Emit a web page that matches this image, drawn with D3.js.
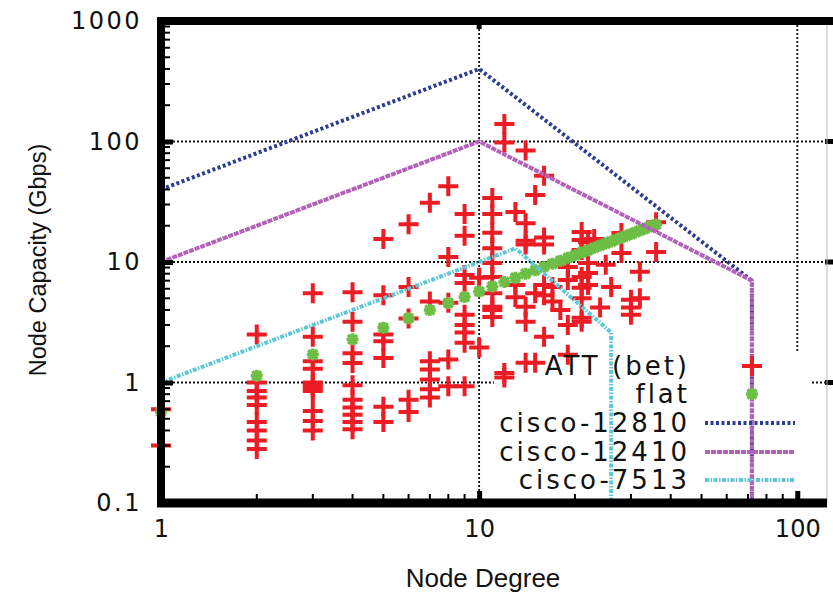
<!DOCTYPE html>
<html>

<head>
    <meta charset="UTF-8">
    <style>
        body { margin: 0; background: #fff; }
        text { fill: #111; }
    </style>
</head>

<body>
    <script src="https://d3js.org/d3.v7.min.js"></script>
    <div id="chart"></div>
    <script>
        // ATT (bet) measurements: node degree and node capacity (Gbps)
        const attDegree = [1, 1,
            2, 2, 2, 2, 2, 2, 2, 2, 2,
            3, 3, 3, 3, 3, 3, 3, 3, 3, 3, 3,
            4, 4, 4, 4, 4, 4, 4, 4, 4, 4,
            5, 5, 5, 5, 5, 5, 5,
            6, 6, 6, 6, 6,
            7, 7, 7, 7, 7, 7, 7,
            8, 8, 8, 8, 8,
            9, 9, 9, 9, 9, 9, 9, 9, 9,
            10, 10,
            11, 11, 11, 11, 11, 11, 11, 11, 11, 11,
            12, 12, 12, 12,
            13, 13, 13,
            14, 14, 14, 14, 14, 14, 14,
            15, 15, 15,
            16, 16, 16, 16, 16, 16,
            17, 17, 18,
            19, 19, 19, 19,
            21, 21, 21, 21, 21, 21, 21, 21,
            22, 22, 22, 22,
            23, 24, 25, 26, 28, 28,
            30, 30, 30, 32, 32, 36, 36];
        const attCapacity = [0.6, 0.3,
            2.5, 1.0, 0.85, 0.75, 0.65, 0.47, 0.4, 0.33, 0.28,
            5.5, 2.4, 1.5, 1.3, 1.0, 0.95, 0.9, 0.85, 0.58, 0.48, 0.4,
            5.6, 3.2, 1.75, 1.45, 0.95, 0.72, 0.62, 0.54, 0.47, 0.41,
            15.5, 5.3, 2.5, 2.2, 1.6, 0.63, 0.47,
            20.6, 6.2, 3.4, 0.72, 0.57,
            31, 4.7, 1.5, 1.28, 1.06, 0.88, 0.75,
            42.5, 11, 4.6, 1.55, 0.93,
            25, 16.5, 7.8, 6.7, 3.65, 3.0, 2.6, 2.14, 0.93,
            7.4, 1.95,
            34, 25, 17.5, 13, 9.8, 7.5, 5.5, 4.25, 3.5, 4.0,
            140, 98, 1.1, 1.2,
            26, 6.45, 5.1,
            84, 21, 15, 14, 4.25, 3.2, 1.46,
            36, 5.5, 1.46,
            52, 16, 14, 6.45, 5.3, 2.4,
            6.2, 4.7, 4.0,
            9.1, 7.1, 3.0, 1.7,
            17.7, 15.2, 12.6, 7.5, 6.1, 5.0, 3.45, 3.2,
            14.6, 9.8, 8.1, 6.45,
            15.5, 4.2, 9.5, 6.2, 17.4, 11.9,
            4.85, 4.2, 3.65, 8.3, 5.0, 21.4, 12.1];

        // flat model
        const flatDegree = [1, 2, 3, 4, 5, 6, 7, 8, 9, 10, 11, 12, 13, 14, 15, 16, 17, 18,
            19, 20, 21, 22, 23, 24, 25, 26, 27, 28, 29, 30, 31, 32, 33, 34, 35, 36];
        const flatCapacity = [0.57, 1.14, 1.71, 2.28, 2.85, 3.42, 3.99, 4.56, 5.13, 5.7, 6.27,
            6.84, 7.41, 7.98, 8.55, 9.12, 9.69, 10.26, 10.83, 11.4, 11.97, 12.54, 13.11,
            13.68, 14.25, 14.82, 15.39, 15.96, 16.53, 17.1, 17.67, 18.24, 18.81, 19.38,
            19.95, 20.5];

        // router technology envelopes
        const c12810Degree = [1, 10, 72, 72];
        const c12810Capacity = [40, 400, 7, 0.1];
        const c12410Degree = [1, 10, 72, 72];
        const c12410Capacity = [10, 100, 7, 0.1];
        const c7513Degree = [1, 13, 26, 26];
        const c7513Capacity = [1, 13, 2.6, 0.1];

        const xTicks = [1, 10, 100];
        const yTicks = [0.1, 1, 10, 100, 1000];

        const width = 833, height = 599;
        const pLeft = 161, pRight = 827, pTop = 21, pBottom = 503;

        const svg = d3.select("#chart")
            .append("svg")
            .attr("width", width)
            .attr("height", height);

        const x = d3.scaleLog().domain([1, 124]).range([pLeft, pRight]);
        const y = d3.scaleLog().domain([0.1, 1000]).range([pBottom, pTop]);

        const red = "#ec1c24", green = "#6cbe45";

        // grid (dotted), with gaps where the key sits
        const grid = svg.append("g")
            .attr("stroke", "#111")
            .attr("stroke-width", 1.8)
            .attr("stroke-dasharray", "2,2");
        grid.append("line").attr("x1", x(10)).attr("x2", x(10)).attr("y1", pTop).attr("y2", pBottom);
        grid.append("line").attr("x1", x(100)).attr("x2", x(100)).attr("y1", pTop).attr("y2", 352);
        [10, 100].forEach(v => {
            grid.append("line").attr("x1", pLeft).attr("x2", pRight).attr("y1", y(v)).attr("y2", y(v));
        });
        grid.append("line").attr("x1", pLeft).attr("x2", 494).attr("y1", y(1)).attr("y2", y(1));
        grid.append("line").attr("x1", 812).attr("x2", pRight).attr("y1", y(1)).attr("y2", y(1));

        // ATT points
        const plus = "M-10,0H10M0,-10V10";
        svg.append("g").selectAll("path")
            .data(attDegree.map((d, i) => [d, attCapacity[i]]))
            .enter()
            .append("path")
            .attr("d", plus)
            .attr("transform", d => `translate(${x(d[0])},${y(d[1])})`)
            .attr("stroke", red)
            .attr("stroke-width", 4)
            .attr("fill", "none");

        // flat points
        const star = "M-4.5,-4.5L4.5,4.5M-4.5,4.5L4.5,-4.5M-6,0H6M0,-6V6";
        svg.append("g").selectAll("path")
            .data(flatDegree.map((d, i) => [d, flatCapacity[i]]))
            .enter()
            .append("path")
            .attr("d", star)
            .attr("transform", d => `translate(${x(d[0])},${y(d[1])})`)
            .attr("stroke", green)
            .attr("stroke-width", 3.5)
            .attr("fill", "none");

        // router lines
        const series = [
            { name: "cisco-12810", xs: c12810Degree, ys: c12810Capacity, color: "#2c3b93", dash: "3,2.5" },
            { name: "cisco-12410", xs: c12410Degree, ys: c12410Capacity, color: "#b262b8", dash: "5,1" },
            { name: "cisco-7513", xs: c7513Degree, ys: c7513Capacity, color: "#5fc8d8", dash: "4,1.5,1.5,1.5" }
        ];
        const line = d3.line().x(d => x(d[0])).y(d => y(d[1]));
        series.forEach(s => {
            svg.append("path")
                .datum(s.xs.map((d, i) => [d, s.ys[i]]))
                .attr("d", line)
                .attr("fill", "none")
                .attr("stroke", s.color)
                .attr("stroke-width", 4)
                .attr("stroke-dasharray", s.dash);
        });

        // key
        const key = svg.append("g")
            .style("font-family", "'DejaVu Sans'")
            .style("font-size", "26px")
            .style("letter-spacing", "3px");
        const keyRows = [366, 394, 423, 452, 480];
        const keyNames = ["ATT (bet)", "flat"].concat(series.map(s => s.name));
        keyNames.forEach((n, i) => {
            key.append("text")
                .attr("x", 690)
                .attr("y", keyRows[i])
                .attr("dy", "0.36em")
                .attr("text-anchor", "end")
                .text(n);
        });
        key.append("path").attr("d", plus).attr("transform", `translate(752,${keyRows[0]})`)
            .attr("stroke", red).attr("stroke-width", 4);
        key.append("path").attr("d", star).attr("transform", `translate(752,${keyRows[1]})`)
            .attr("stroke", green).attr("stroke-width", 3.5);
        series.forEach((s, i) => {
            key.append("line")
                .attr("x1", 705).attr("x2", 795)
                .attr("y1", keyRows[i + 2]).attr("y2", keyRows[i + 2])
                .attr("stroke", s.color)
                .attr("stroke-width", 4)
                .attr("stroke-dasharray", s.dash);
        });

        // minor ticks
        const minor = [];
        [0.1, 1, 10, 100].forEach(p => { for (let k = 2; k < 10; k++) minor.push(p * k); });
        const minorX = minor.filter(v => v > 1 && v < 124);
        const ticks = svg.append("g").attr("stroke", "#000").attr("stroke-width", 2);
        minor.forEach(v => {
            ticks.append("line").attr("x1", pLeft).attr("x2", pLeft + 9).attr("y1", y(v)).attr("y2", y(v));
        });
        minorX.forEach(v => {
            ticks.append("line").attr("y1", pBottom).attr("y2", pBottom - 9).attr("x1", x(v)).attr("x2", x(v));
        });
        // major ticks on right and top
        [1, 10, 100].forEach(v => {
            ticks.append("line").attr("x1", pRight - 2).attr("x2", width).attr("y1", y(v)).attr("y2", y(v))
                .attr("stroke-width", 5);
        });
        ticks.append("line").attr("x1", x(10)).attr("x2", x(10)).attr("y1", pTop).attr("y2", pTop + 8)
            .attr("stroke-width", 5);

        // axes
        const yAxis = svg.append("g")
            .attr("transform", `translate(${pLeft},0)`)
            .call(d3.axisLeft(y).tickValues(yTicks).tickFormat(d3.format("")).tickSizeInner(-12).tickSizeOuter(0).tickPadding(19));
        const xAxis = svg.append("g")
            .attr("transform", `translate(0,${pBottom})`)
            .call(d3.axisBottom(x).tickValues(xTicks).tickFormat(d3.format("")).tickSizeInner(-12).tickSizeOuter(0).tickPadding(17));
        [yAxis, xAxis].forEach(a => {
            a.select(".domain").remove();
            a.selectAll("line").attr("stroke", "#000").attr("stroke-width", 5);
            a.selectAll("text")
                .style("font-family", "'DejaVu Sans'")
                .style("font-size", "24px")
                .attr("fill", "#111");
        });
        yAxis.selectAll("text").style("letter-spacing", "2.5px");

        // frame
        svg.append("line").attr("x1", pRight).attr("x2", pRight).attr("y1", pTop).attr("y2", pBottom)
            .attr("stroke", "#bbb").attr("stroke-width", 1);
        svg.append("line").attr("x1", pLeft).attr("x2", pLeft).attr("y1", pTop - 4).attr("y2", pBottom + 4)
            .attr("stroke", "#000").attr("stroke-width", 8);
        svg.append("line").attr("x1", pLeft - 4).attr("x2", width).attr("y1", pTop).attr("y2", pTop)
            .attr("stroke", "#000").attr("stroke-width", 8);
        svg.append("line").attr("x1", pLeft - 4).attr("x2", pRight).attr("y1", pBottom).attr("y2", pBottom)
            .attr("stroke", "#000").attr("stroke-width", 9);

        // axis titles
        svg.append("text")
            .attr("x", 483)
            .attr("y", 587)
            .attr("text-anchor", "middle")
            .style("font-family", "'Liberation Sans'")
            .style("font-size", "26px")
            .text("Node Degree");
        svg.append("text")
            .attr("transform", "translate(46,260) rotate(-90)")
            .attr("text-anchor", "middle")
            .style("font-family", "'Liberation Sans'")
            .style("font-size", "23.5px")
            .text("Node Capacity (Gbps)");
    </script>
</body>

</html>
